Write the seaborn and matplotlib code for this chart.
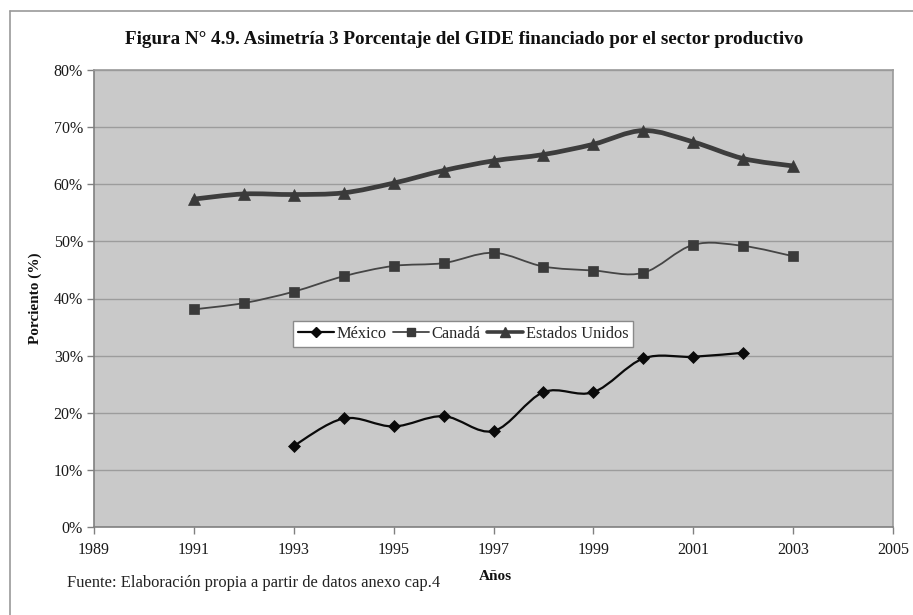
import matplotlib
matplotlib.use("Agg")
import matplotlib.pyplot as plt
from matplotlib.path import Path
from matplotlib.patches import PathPatch
from matplotlib.lines import Line2D
from matplotlib.ticker import PercentFormatter, MultipleLocator
import numpy as np
import pandas as pd
import seaborn as sns

# Share of GERD (GIDE) financed by the business sector, percent
years_us = [1991, 1992, 1993, 1994, 1995, 1996, 1997, 1998, 1999, 2000, 2001, 2002, 2003]
estados_unidos = [57.4, 58.3, 58.2, 58.5, 60.2, 62.4, 64.1, 65.2, 67.0, 69.4, 67.4, 64.5, 63.2]

years_ca = [1991, 1992, 1993, 1994, 1995, 1996, 1997, 1998, 1999, 2000, 2001, 2002, 2003]
canada = [38.1, 39.2, 41.2, 43.9, 45.7, 46.2, 48.0, 45.6, 44.9, 44.5, 49.4, 49.2, 47.4]

years_mx = [1993, 1994, 1995, 1996, 1997, 1998, 1999, 2000, 2001, 2002]
mexico = [14.2, 19.0, 17.6, 19.4, 16.8, 23.6, 23.6, 29.5, 29.8, 30.5]

series_names = ["México", "Canadá", "Estados Unidos"]
x_ticks = [1989, 1991, 1993, 1995, 1997, 1999, 2001, 2003, 2005]

title = "Figura N° 4.9. Asimetría 3 Porcentaje del GIDE financiado por el sector productivo"
y_label = "Porciento (%)"
x_label = "Años"
source = "Fuente: Elaboración propia a partir de datos anexo cap.4"

sns.set_theme(style="white")
plt.rcParams["font.family"] = ["Liberation Serif", "DejaVu Serif"]

fig = plt.figure(figsize=(9.13, 6.15), dpi=100)
fig.patch.set_facecolor("white")
W, H = 913, 615
ax = fig.add_axes([94 / W, 1 - 527 / H, (893 - 94) / W, (527 - 70) / H])
ax.set_facecolor("#c9c9c9")

df = pd.concat([
    pd.DataFrame({"Año": years_mx, "Valor": mexico, "País": series_names[0]}),
    pd.DataFrame({"Año": years_ca, "Valor": canada, "País": series_names[1]}),
    pd.DataFrame({"Año": years_us, "Valor": estados_unidos, "País": series_names[2]}),
])

styles = {
    "México": dict(color="#0a0a0a", lw=1.6, marker="D", ms=6.0, mcolor="#0a0a0a"),
    "Canadá": dict(color="#454545", lw=1.3, marker="s", ms=7.0, mcolor="#3a3a3a"),
    "Estados Unidos": dict(color="#3d3d3d", lw=3.4, marker="^", ms=8.0, mcolor="#3a3a3a"),
}


def smooth_path(xs, ys):
    """Cubic Bezier path through the points (Catmull-Rom style tangents)."""
    pts = np.column_stack([xs, ys]).astype(float)
    n = len(pts)
    verts = [pts[0]]
    codes = [Path.MOVETO]
    for i in range(n - 1):
        p0 = pts[i - 1] if i > 0 else pts[i]
        p1 = pts[i]
        p2 = pts[i + 1]
        p3 = pts[i + 2] if i + 2 < n else pts[i + 1]
        c1 = p1 + (p2 - p0) / 6.0
        c2 = p2 - (p3 - p1) / 6.0
        verts += [c1, c2, p2]
        codes += [Path.CURVE4] * 3
    return Path(verts, codes)


# gridlines
ax.yaxis.grid(True, color="#9c9c9c", lw=1.0)
ax.set_axisbelow(True)

handles = []
for name in series_names:
    sub = df[df["País"] == name]
    st = styles[name]
    patch = PathPatch(smooth_path(sub["Año"].values, sub["Valor"].values),
                      fill=False, edgecolor=st["color"], lw=st["lw"],
                      capstyle="round", joinstyle="round", zorder=3)
    ax.add_patch(patch)
    sns.lineplot(data=sub, x="Año", y="Valor", ax=ax, linestyle="none",
                 marker=st["marker"], markersize=st["ms"], color=st["mcolor"],
                 markeredgecolor=st["mcolor"], markeredgewidth=0.5,
                 legend=False, zorder=4, errorbar=None)
    handles.append(Line2D([], [], color=st["color"], lw=st["lw"] if name != "Estados Unidos" else 2.6,
                          marker=st["marker"], markersize=st["ms"] - 1,
                          markerfacecolor=st["mcolor"], markeredgecolor=st["mcolor"]))

ax.set_xlim(1989, 2005)
ax.set_ylim(0, 80)
ax.set_xticks(x_ticks)
ax.set_xticklabels([str(t) for t in x_ticks])
ax.yaxis.set_major_locator(MultipleLocator(10))
ax.yaxis.set_major_formatter(PercentFormatter(xmax=100, decimals=0))
ax.set_xlabel("")
ax.set_ylabel("")

for side in ["top", "right"]:
    ax.spines[side].set_visible(True)
    ax.spines[side].set_color("#9a9a9a")
    ax.spines[side].set_linewidth(1.2)
for side in ["left", "bottom"]:
    ax.spines[side].set_visible(True)
    ax.spines[side].set_color("#808080")
    ax.spines[side].set_linewidth(1.2)

ax.tick_params(axis="both", which="major", direction="out", length=5, width=1,
               color="#808080", labelsize=11.5, labelcolor="#1a1a1a", left=True, bottom=True)
ax.tick_params(axis="x", pad=6)
ax.tick_params(axis="y", pad=3)

leg = ax.legend(handles, series_names, ncol=3, loc="center",
                bbox_to_anchor=(0.462, 0.422), frameon=True, fancybox=False,
                edgecolor="#8a8a8a", facecolor="white", framealpha=1.0,
                fontsize=11.8, handlelength=2.2, handletextpad=0.15,
                columnspacing=0.4, borderpad=0.3, borderaxespad=0)
leg.get_frame().set_linewidth(1.0)

fig.text(0.508, 1 - 40 / H, title, ha="center", va="center",
         fontsize=13.8, fontweight="bold", color="#111111")
fig.text(35 / W, 1 - 298 / H, y_label, ha="center", va="center", rotation=90,
         fontsize=11, fontweight="bold", color="#111111")
fig.text(495 / W, 1 - 577 / H, x_label, ha="center", va="center",
         fontsize=11, fontweight="bold", color="#111111")
fig.text(67 / W, 1 - 583 / H, source, ha="left", va="center",
         fontsize=11.9, color="#222222")

# outer chart frame
fig.add_artist(Line2D([10 / W, 10 / W], [0, 1 - 11 / H], transform=fig.transFigure,
                      color="#9a9a9a", lw=1.2))
fig.add_artist(Line2D([10 / W, 1.0], [1 - 11 / H, 1 - 11 / H], transform=fig.transFigure,
                      color="#9a9a9a", lw=1.2))

fig.savefig("out.png", dpi=100, facecolor="white")
